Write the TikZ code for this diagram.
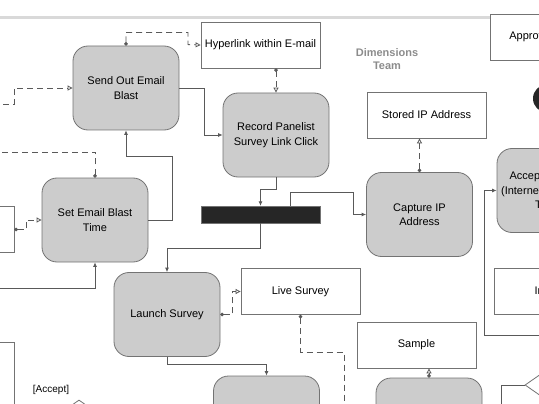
\documentclass[tikz,border=0pt]{standalone}
\usepackage{fontspec}
\setmainfont{Liberation Sans}
\usetikzlibrary{arrows.meta,shapes.geometric,calc}
\tikzset{
  act/.style={draw=black!55, fill=black!20, line width=0.8pt, rounded corners=15pt,
    minimum width=106pt, minimum height=84pt, align=center, inner sep=2pt,
    font=\fontsize{11}{14.5}\selectfont},
  obj/.style={draw=black!55, fill=white, line width=0.8pt, minimum width=119pt,
    minimum height=46pt, align=center, font=\fontsize{11}{14.5}\selectfont},
  flow/.style={draw=black!65, line width=0.8pt, -{Latex[length=4.5pt,width=4pt]}},
  oflow/.style={draw=black!65, line width=0.8pt, dash pattern=on 6pt off 4pt,
    {Circle[length=3.5pt]}-{Triangle[open,length=5pt,width=5pt]}},
  choice/.style={diamond, draw=black!55, fill=white, line width=0.8pt, inner sep=0pt,
    minimum width=40pt, minimum height=28pt}
}
\begin{document}
\begin{tikzpicture}[x=1pt,y=-1pt]
\useasboundingbox (0,0) rectangle (539,404);
\clip (0,0) rectangle (539,404);
\draw[black!15, line width=3pt] (0,18) -- (539,18);
\node[act] (send) at (126,88) {Send Out Email\\Blast};
\node[obj] (hyper) at (260.5,45) {Hyperlink within E-mail};
\node[act] (record) at (276,135) {Record Panelist\\Survey Link Click};
\node[obj] (stored) at (426.5,115) {Stored IP Address};
\node[act] (capture) at (419.5,214.5) {Capture IP\\Address};
\node[act] (access) at (550,190.5) {Accept Invitation\\(Internet Explorer 8)\\Terms};
\node[obj] (approve) at (550,37) {Approve Sample};
\node[obj] (invite) at (553.5,291) {Invitees};
\node[circle, fill=black!85, minimum size=28pt] (fin) at (547,98.5) {};
\node[act] (setblast) at (95,220) {Set Email Blast\\Time};
\node[obj] (leftA) at (-45.5,229.5) {};
\node[obj, minimum height=84pt] (leftB) at (-45.5,384) {};
\node[draw=black!55, fill=black!85, minimum width=119pt, minimum height=17pt] (bar) at (260.5,214.5) {};
\node[act] (launch) at (167,314.5) {Launch Survey};
\node[obj] (live) at (300.5,291.5) {Live Survey};
\node[obj] (sample) at (416.5,345) {Sample};
\node[act] (lowA) at (266.5,418) {};
\node[act] (lowB) at (429,420) {};
\node[text=black!45, font=\bfseries\fontsize{11}{13}\selectfont, align=center] (team) at (387,59) {Dimensions\\Team};
\node[font=\fontsize{10}{12}\selectfont] (acc) at (51,390) {[Accept]};
\node[choice] (decA) at (79,414) {};
\node[choice] (decR) at (545,385) {};
\coordinate (inL) at (-10,288);
\coordinate (outL) at (-10,152);
\coordinate (inS) at (-10,104);
\coordinate (liveOut) at (344,420);
\coordinate (inR) at (560,335);
\coordinate (outR) at (501,420);
\draw[flow] (send.east) -- ++(25,0) |- (record.west);
\draw[flow] (setblast.east) -| ++(24,-64) -| (send.south);
\draw[flow] (inL) -| (setblast.south);
\draw[oflow] (setblast.north) |- (outL);
\draw[oflow] (send.north) -- ++(0,-13) -| ++(62,12) -- (hyper.west);
\draw[oflow] (hyper.south -| record.north) -- (record.north);
\draw[oflow] (inS) -- ++(24,0) |- (send.west);
\draw[oflow] (leftA.east) -- ++(12,0) |- (setblast.west);
\draw[flow] (record.south) -- ++(0,12) -| (bar.north);
\draw[flow] ($(bar.north)+(30,0)$) -- ++(0,-13) -| ($(capture.west)+(-13,0)$) -- (capture.west);
\draw[flow] (bar.south) -- ++(0,25) -| (launch.north);
\draw[oflow] (launch.east) -- ++(12,0) |- (live.west);
\draw[flow] (launch.south) -- ++(0,7) -| (lowA.north);
\draw[oflow] (live.south) -- ++(0,37) -| (liveOut);
\draw[oflow] (lowB.north) -- (lowB.north |- sample.south);
\draw[oflow] (capture.north) -- (capture.north |- stored.south);
\draw[flow] (inR) -| ($(access.west)+(-12,0)$) -- (access.west);
\draw[flow] (decR.west) -| (outR);
\end{tikzpicture}
\end{document}
